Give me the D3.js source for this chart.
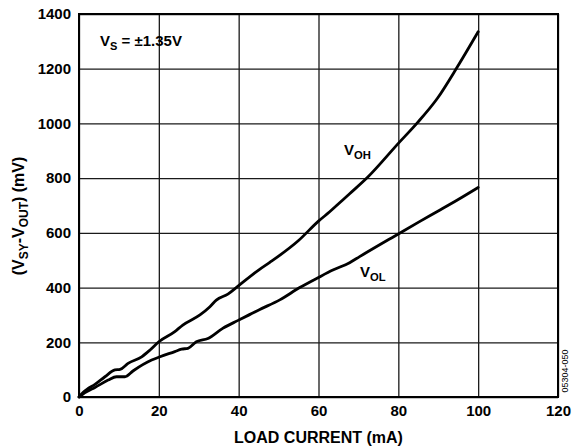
<!DOCTYPE html>
<html>
<head>
<meta charset="utf-8">
<script src="https://cdn.jsdelivr.net/npm/d3@7"></script>
<style>
  html, body { margin: 0; padding: 0; background: #fff; }
  svg text { font-family: "Liberation Sans", Arial, Helvetica, sans-serif; font-weight: bold; fill: #000; }
</style>
</head>
<body>
<svg id="chart" width="574" height="447"></svg>
<script>
// Output headroom vs. load current, V_S = ±1.35 V
const xTicks = [0, 20, 40, 60, 80, 100, 120];
const yTicks = [0, 200, 400, 600, 800, 1000, 1200, 1400];

// V_OH: load current (mA) / dropout (mV)
const vohCurrent = [0, 1, 2, 4, 6.5, 9, 10.3, 12.3, 15.7, 17.8, 20, 24, 26, 30.3, 32.8, 34.4, 37.3, 40, 45, 47.8, 55, 60, 62.8, 65.3, 67.8, 72.3, 80, 84.8, 89.8, 94.8, 100];
const vohMv      = [0, 16, 28, 46, 74, 99, 101, 123, 147, 172, 202, 239, 263, 300, 330, 354, 376, 407, 464, 492, 572, 643, 677, 710, 743, 803, 927, 1003, 1092, 1207, 1335];

// V_OL: load current (mA) / dropout (mV)
const volCurrent = [0, 1, 2, 4, 7.3, 9.4, 11.5, 13.6, 18.2, 20.3, 24, 25.7, 27.3, 29.4, 32.3, 36, 40, 45.3, 50.3, 55.3, 60, 63.6, 67.8, 70.3, 80, 85.3, 90, 95, 100];
const volMv      = [0, 11, 20, 35, 62, 74, 74, 96, 135, 147, 166, 175, 178, 202, 214, 251, 281, 320, 355, 400, 437, 464, 491, 513, 596, 641, 680, 722, 766];

const margin = { left: 79, top: 14, right: 16, bottom: 50 };
const W = 574, H = 447;
const iw = W - margin.left - margin.right;
const ih = H - margin.top - margin.bottom;

const svg = d3.select("#chart");
const g = svg.append("g").attr("transform", `translate(${margin.left},${margin.top})`);

const x = d3.scaleLinear().domain([0, 120]).range([0, iw]);
const y = d3.scaleLinear().domain([0, 1400]).range([ih, 0]);

// grid + tick labels
const xAxis = g.append("g").attr("transform", `translate(0,${ih})`)
  .call(d3.axisBottom(x).tickValues(xTicks).tickFormat(d3.format("d"))
    .tickSize(-ih).tickSizeOuter(0).tickPadding(8));
const yAxis = g.append("g")
  .call(d3.axisLeft(y).tickValues(yTicks).tickFormat(d3.format("d"))
    .tickSize(-iw).tickSizeOuter(0).tickPadding(8));

[xAxis, yAxis].forEach(a => {
  a.select(".domain").remove();
  a.selectAll(".tick line").attr("stroke", "#1a1a1a").attr("stroke-width", 1.3);
  a.selectAll(".tick text").style("font-size", "15px").attr("fill", "#000");
});

// frame
g.append("rect").attr("x", 0).attr("y", 0).attr("width", iw).attr("height", ih)
  .attr("fill", "none").attr("stroke", "#000").attr("stroke-width", 2);

const line = d3.line().x(d => x(d[0])).y(d => y(d[1])).curve(d3.curveMonotoneX);
const voh = vohCurrent.map((c, i) => [c, vohMv[i]]);
const vol = volCurrent.map((c, i) => [c, volMv[i]]);

[voh, vol].forEach(s => {
  g.append("path").datum(s).attr("d", line)
    .attr("fill", "none").attr("stroke", "#000").attr("stroke-width", 2.8)
    .attr("stroke-linejoin", "round").attr("stroke-linecap", "round");
});

// curve labels
function subLabel(parent, px, py, main, sub, size) {
  const t = parent.append("text").attr("x", px).attr("y", py).style("font-size", size + "px");
  t.append("tspan").text(main);
  t.append("tspan").attr("dy", size * 0.25).style("font-size", (size * 0.75) + "px").text(sub);
  return t;
}
subLabel(svg, 344, 155, "V", "OH", 15);
subLabel(svg, 360, 277, "V", "OL", 15);

// supply annotation
const vs = svg.append("text").attr("x", 100).attr("y", 46).style("font-size", "15px");
vs.append("tspan").text("V");
vs.append("tspan").attr("dy", 4).style("font-size", "11px").text("S");
vs.append("tspan").attr("dy", -4).text(" = ±1.35V");

// axis titles
svg.append("text").attr("x", margin.left + iw / 2).attr("y", 443)
  .attr("text-anchor", "middle").style("font-size", "16px").text("LOAD CURRENT (mA)");

const yt = svg.append("text").attr("transform", "translate(24,216) rotate(-90)")
  .attr("text-anchor", "middle").style("font-size", "16px");
yt.append("tspan").text("(V");
yt.append("tspan").attr("dy", 4).style("font-size", "12px").text("SY");
yt.append("tspan").attr("dy", -4).text("-V");
yt.append("tspan").attr("dy", 4).style("font-size", "12px").text("OUT");
yt.append("tspan").attr("dy", -4).text(") (mV)");

// figure number
svg.append("text").attr("transform", "translate(568,371) rotate(-90)")
  .attr("text-anchor", "middle").style("font-size", "9px").style("font-weight", "normal")
  .attr("fill", "#555").text("05304-050");
</script>
</body>
</html>
